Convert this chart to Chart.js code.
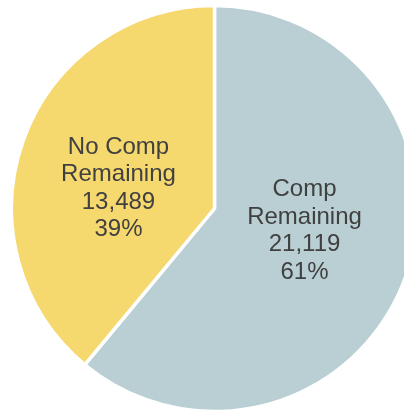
<!DOCTYPE html>
<html>
<head>
<meta charset="utf-8">
<script src="https://cdn.jsdelivr.net/npm/chart.js@4"></script>
<style>
  html, body { margin: 0; padding: 0; background: #fff; overflow: hidden; }
  #wrap { position: absolute; left: 0; top: 0; width: 429px; height: 417px; }
</style>
</head>
<body>
<div id="wrap"><canvas id="pie" width="429" height="417"></canvas></div>
<script>
const categories = [['Comp', 'Remaining'], ['No Comp', 'Remaining']];
const counts = [21119, 13489];
const colors = ['#B9CFD3', '#F5D86E'];

const total = counts.reduce((a, b) => a + b, 0);

// Beschriftung in den Segmenten
const sliceLabels = {
  id: 'sliceLabels',
  afterDatasetsDraw(chart) {
    const ctx = chart.ctx;
    const meta = chart.getDatasetMeta(0);
    ctx.save();
    ctx.font = '24px "Liberation Sans", Arial, sans-serif';
    ctx.fillStyle = '#404040';
    ctx.textAlign = 'center';
    ctx.textBaseline = 'middle';
    meta.data.forEach((arc, i) => {
      const p = arc.getProps(['x', 'y', 'startAngle', 'endAngle', 'outerRadius'], true);
      const mid = (p.startAngle + p.endAngle) / 2 - 7 * Math.PI / 180;
      const r = p.outerRadius * 0.47;
      const cx = p.x + Math.cos(mid) * r - 3;
      const cy = p.y + Math.sin(mid) * r + 1;
      const lines = [
        ...categories[i],
        counts[i].toLocaleString('en-US'),
        Math.round(counts[i] / total * 100) + '%'
      ];
      const lh = 27.5;
      lines.forEach((t, k) => {
        ctx.fillText(t, cx, cy + (k - (lines.length - 1) / 2) * lh);
      });
    });
    ctx.restore();
  }
};

new Chart(document.getElementById('pie'), {
  type: 'pie',
  data: {
    labels: categories.map(c => c.join(' ')),
    datasets: [{
      data: counts,
      backgroundColor: colors,
      borderColor: '#ffffff',
      borderWidth: 3.5,
      radius: 203,
      hoverOffset: 0
    }]
  },
  options: {
    responsive: false,
    devicePixelRatio: 1,
    animation: false,
    layout: { padding: 0 },
    plugins: {
      legend: { display: false },
      tooltip: { enabled: false }
    }
  },
  plugins: [sliceLabels]
});
</script>
</body>
</html>
